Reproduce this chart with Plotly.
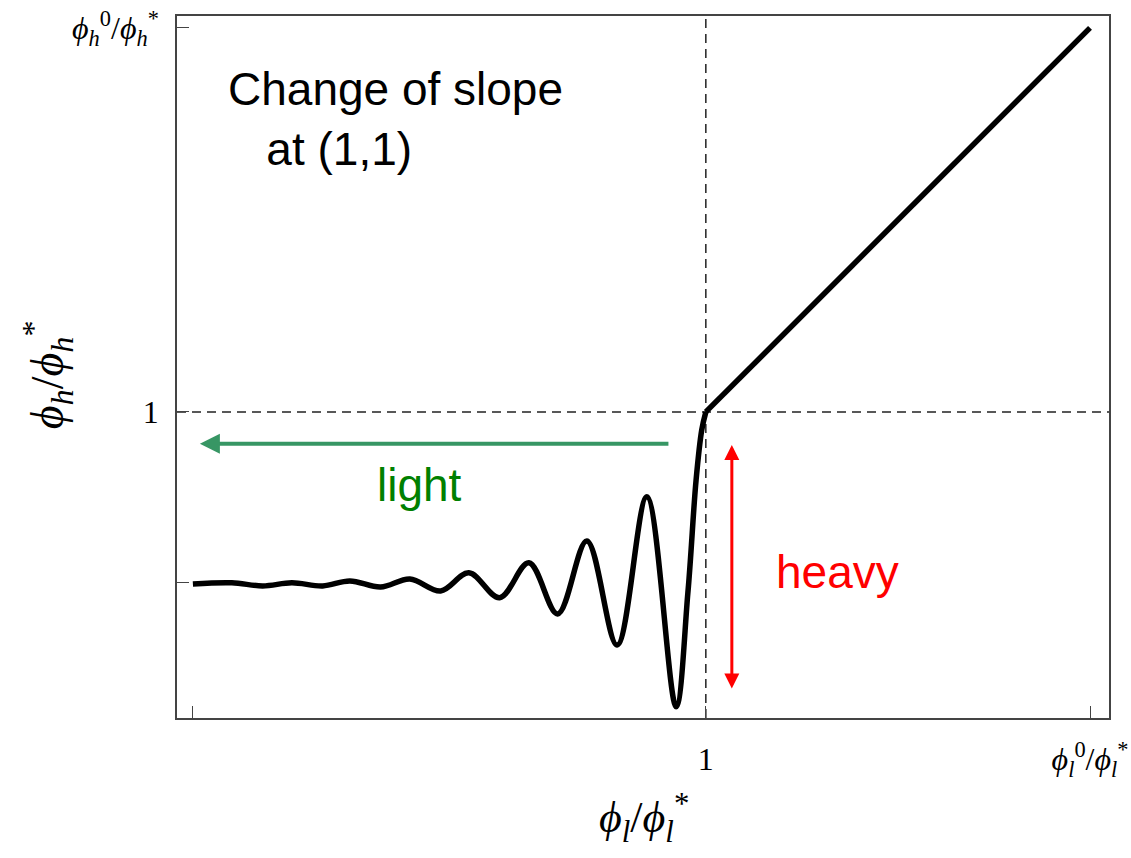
import plotly.graph_objects as go

# --- data (x in units of phi_l/phi_l*, y in units of phi_h/phi_h*) ---
osc_x = [0.000, 0.076, 0.136, 0.193, 0.253, 0.306, 0.366, 0.423, 0.483, 0.538,
         0.598, 0.655, 0.711, 0.768, 0.827, 0.885, 0.942, 0.965, 0.981, 0.992, 1.000]
osc_y = [0.552, 0.555, 0.547, 0.555, 0.547, 0.560, 0.544, 0.565, 0.534, 0.581,
         0.516, 0.607, 0.474, 0.664, 0.393, 0.779, 0.232, 0.529, 0.823, 0.953, 1.000]
lin_x = [1.000, 1.749]
lin_y = [1.000, 2.000]

PHI = "\u03d5"
x_tick_vals = [0.0, 1.0, 1.749]
x_tick_text = ["", "1", f"<i>{PHI}</i><sub><i>l</i></sub><sup>0</sup>/<i>{PHI}</i><sub><i>l</i></sub><sup>*</sup>"]
y_tick_vals = [0.555, 1.0, 2.0]
y_tick_text = ["", "1", f"<i>{PHI}</i><sub><i>h</i></sub><sup>0</sup>/<i>{PHI}</i><sub><i>h</i></sub><sup>*</sup>"]

x_range = [-0.031, 1.786]
y_range = [0.203, 2.031]

SERIF = "Liberation Serif, Times New Roman, serif"
SANS = "Liberation Sans, Arial, sans-serif"

fig = go.Figure()
fig.add_trace(go.Scatter(x=osc_x, y=osc_y, mode="lines",
                         line=dict(color="black", width=5.5, shape="spline", smoothing=1.0),
                         hoverinfo="skip", showlegend=False))
fig.add_trace(go.Scatter(x=lin_x, y=lin_y, mode="lines",
                         line=dict(color="black", width=5.5),
                         hoverinfo="skip", showlegend=False))

# dashed reference lines at (1,1)
fig.add_shape(type="line", xref="x", yref="paper", x0=1, x1=1, y0=0, y1=1,
              line=dict(color="#222222", width=1.5, dash="9px,6px"), layer="below")
fig.add_shape(type="line", xref="paper", yref="y", x0=0, x1=1, y0=1, y1=1,
              line=dict(color="#222222", width=1.5, dash="9px,6px"), layer="below")

# arrows
fig.add_annotation(x=0.0136, y=0.917, ax=0.930, ay=0.917, xref="x", yref="y",
                   axref="x", ayref="y", showarrow=True, arrowhead=2, arrowsize=1.0,
                   arrowwidth=4, arrowcolor="#379664", text="")
fig.add_annotation(x=1.0507, y=0.914, ax=1.0507, ay=0.276, xref="x", yref="y",
                   axref="x", ayref="y", showarrow=True, arrowhead=2, arrowsize=1.0,
                   arrowside="end+start", arrowwidth=3, arrowcolor="#ff0000", text="")

# text labels
fig.add_annotation(x=0.064, y=1.763, xref="x", yref="y", xanchor="left", yanchor="middle",
                   align="left", showarrow=False,
                   text="Change of slope<br>&nbsp;&nbsp;&nbsp;at (1,1)",
                   font=dict(family=SANS, size=46, color="black"))
fig.add_annotation(x=0.442, y=0.810, xref="x", yref="y", showarrow=False, text="light",
                   font=dict(family=SANS, size=46, color="#008000"))
fig.add_annotation(x=1.257, y=0.583, xref="x", yref="y", showarrow=False, text="heavy",
                   font=dict(family=SANS, size=46, color="#ff0000"))

# axis titles
fig.add_annotation(x=0.501, y=-0.19, xref="paper", yref="paper", showarrow=False,
                   text=f"<i>{PHI}</i><sub><i>l</i></sub>/<i>{PHI}</i><sub><i>l</i></sub><sup>*</sup>",
                   font=dict(family=SERIF, size=44, color="black"))
fig.add_annotation(x=-0.176, y=0.489, xref="paper", yref="paper", showarrow=False,
                   textangle=-90,
                   text=f"<i>{PHI}</i><sub><i>h</i></sub>/<i>{PHI}</i><sub><i>h</i></sub><sup>*</sup>",
                   font=dict(family=SERIF, size=46, color="black"))

axis_common = dict(showgrid=False, zeroline=False, showline=True, linecolor="#444444",
                   linewidth=1.5, mirror=True, ticks="inside", ticklen=12, tickwidth=1.2,
                   tickcolor="#444444", automargin=False,
                   tickfont=dict(family=SERIF, size=32, color="black"))
fig.update_xaxes(range=x_range, tickmode="array", tickvals=x_tick_vals, ticktext=x_tick_text,
                 ticklabelstandoff=12, **axis_common)
fig.update_yaxes(range=y_range, tickmode="array", tickvals=y_tick_vals, ticktext=y_tick_text,
                 ticklabelstandoff=10, **axis_common)

fig.update_layout(width=1131, height=858, margin=dict(l=177, r=22, t=16, b=140),
                  plot_bgcolor="white", paper_bgcolor="white", showlegend=False)

fig.write_html("out.html")
